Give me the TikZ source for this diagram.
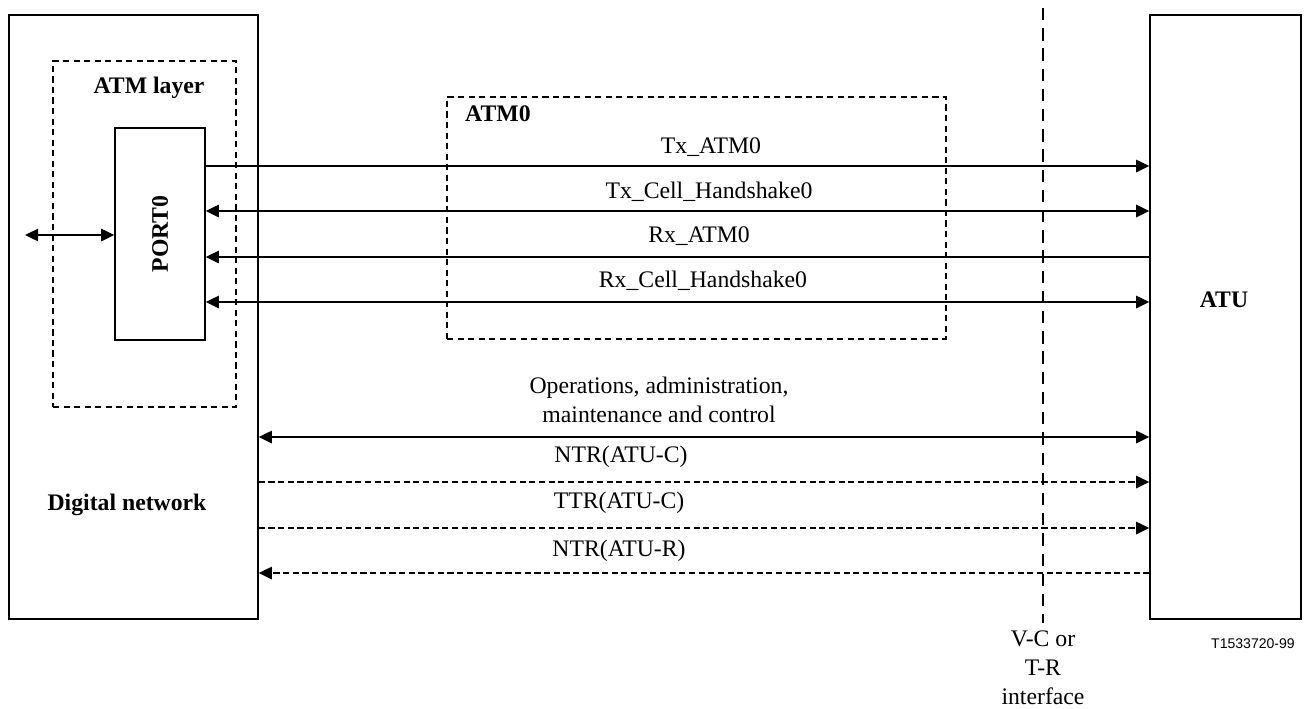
\documentclass[tikz,border=0pt]{standalone}
\usepackage{fontspec}
\setmainfont{Liberation Serif}
\newfontfamily\codefont{Liberation Sans}
\usetikzlibrary{arrows.meta, positioning, fit}

\begin{document}
\begin{tikzpicture}[x=0.02cm,y=-0.02cm,
                    font=\fontsize{13.5}{16.5}\selectfont,
                    blk/.style={draw,line width=0.8pt,inner sep=0pt},
                    grp/.style={draw,line width=0.9pt,dash pattern=on 3.5pt off 2.5pt,inner sep=0pt},
                    sig/.style={line width=1.1pt,-{Triangle[length=7.5pt,width=7pt]}},
                    bisig/.style={line width=1.1pt,{Triangle[length=7.5pt,width=7pt]}-{Triangle[length=7.5pt,width=7pt]}},
                    clk/.style={sig,dash pattern=on 3.5pt off 2pt},
                    lbl/.style={inner sep=0pt,align=center}
]
\useasboundingbox (0,0) rectangle (1308,708);
% blocks
\node[blk,fit={(9,15) (258,619)}] (dn) {};
\node[blk,fit={(1150,15) (1301,619)}] (atu) {};
\node[grp,fit={(53,61) (236,407)}] (atml) {};
\node[blk,fit={(115,128) (205,340)}] (port) {};
\node[grp,fit={(447,97) (946,339)}] (atmz) {};
\node[font=\fontsize{13.5}{16.5}\selectfont\bfseries,rotate=90] at (port.center) {PORT0};
\node[font=\fontsize{13.5}{16.5}\selectfont\bfseries] at (149,88) {ATM layer};
\node[font=\fontsize{13.5}{16.5}\selectfont\bfseries,anchor=west] at (459,114) {ATM0};
\node[font=\fontsize{13.5}{16.5}\selectfont\bfseries] at (127,505) {Digital network};
\node[font=\fontsize{13.5}{16.5}\selectfont\bfseries] at (1224,300) {ATU};
% interface line
\coordinate (ifa) at (1043,8);
\coordinate (ifb) at (1043,623);
\draw[line width=1.1pt,dash pattern=on 7pt off 4.5pt] (ifa) -- (ifb);
\node[lbl,below=4pt of ifb] (ifl) {V-C or\\T-R\\interface};
\node[font=\fontsize{8}{9}\codefont,anchor=north east] at (1301,632) {T1533720-99};
% signals
\coordinate (ext) at (25,235);
\draw[bisig] (ext) -- (port.west |- ext);
\draw[sig] (port.east |- 0,166) -- (atu.west |- 0,166);
\draw[bisig] (port.east |- 0,211) -- (atu.west |- 0,211);
\draw[sig] (atu.west |- 0,257) -- (port.east |- 0,257);
\draw[bisig] (port.east |- 0,302) -- (atu.west |- 0,302);
\draw[bisig] (dn.east |- 0,437) -- (atu.west |- 0,437);
\draw[clk] (dn.east |- 0,482) -- (atu.west |- 0,482);
\draw[clk] (dn.east |- 0,528) -- (atu.west |- 0,528);
\draw[clk] (atu.west |- 0,573) -- (dn.east |- 0,573);
% labels
\node[lbl] (txa) at (711,147) {Tx\_ATM0};
\node[lbl] (txh) at (709,192) {Tx\_Cell\_Handshake0};
\node[lbl] (rxa) at (699,236) {Rx\_ATM0};
\node[lbl] (rxh) at (703,281) {Rx\_Cell\_Handshake0};
\node[lbl] (oam) at (659,400) {Operations, administration,\\maintenance and control};
\node[lbl] (ntc) at (621,457) {NTR(ATU-C)};
\node[lbl] (ttc) at (619,503) {TTR(ATU-C)};
\node[lbl] (ntr) at (619,551) {NTR(ATU-R)};
\end{tikzpicture}
\end{document}
